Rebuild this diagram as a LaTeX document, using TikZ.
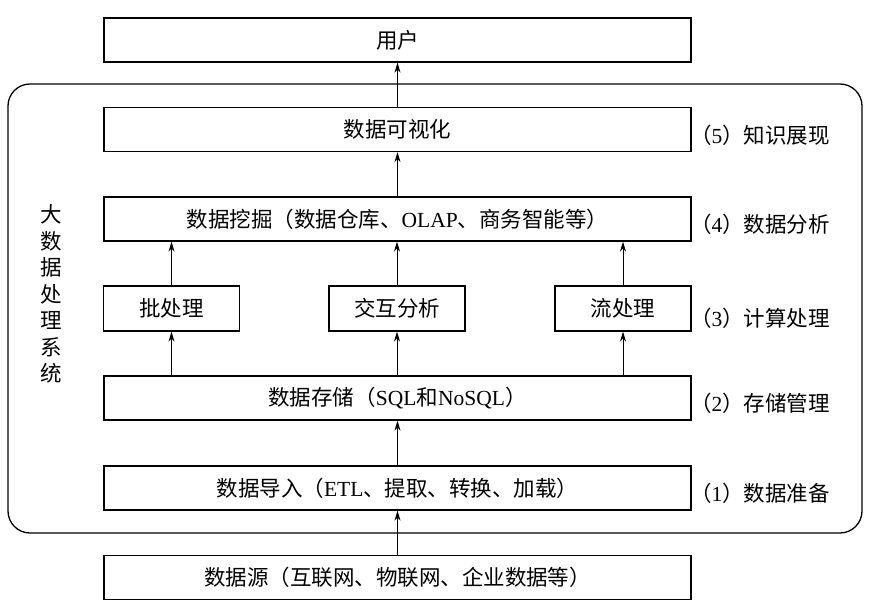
\documentclass[tikz,border=0pt]{standalone}
\usepackage{fontspec}
\newfontfamily\cjk{Noto Sans CJK SC}
\newfontfamily\lat{Liberation Serif}
\usetikzlibrary{arrows.meta}
\newcommand{\latw}[1]{{\lat #1}}
\begin{document}
\begin{tikzpicture}[x=1pt,y=-1pt,
  every node/.style={font=\cjk\fontsize{21.5}{26}\selectfont},
  boxstyle/.style={draw, line width=1.3pt, inner sep=0pt},
  widebox/.style={boxstyle, minimum width=587pt, minimum height=44pt},
  smallbox/.style={boxstyle, minimum width=136pt, minimum height=45pt},
  arr/.style={line width=1pt, -{Stealth[length=10pt,width=6pt]}},
  sidelabel/.style={anchor=west, inner sep=0pt}]
\useasboundingbox (0,0) rectangle (871,606);
\draw[line width=1.3pt, rounded corners=22pt] (8,84) rectangle (862,533);
\node[widebox] (user) at (397.5,40) {用户};
\node[widebox] (vis) at (397.5,129.5) {数据可视化};
\node[widebox] (mine) at (397.5,219) {数据挖掘（数据仓库、\latw{OLAP}、商务智能等）};
\node[smallbox] (batch) at (171.5,308.5) {批处理};
\node[smallbox] (inter) at (397,308.5) {交互分析};
\node[smallbox] (stream) at (623,308.5) {流处理};
\node[widebox] (store) at (397.5,398) {数据存储（\latw{SQL}和\latw{NoSQL}）};
\node[widebox] (import) at (397.5,488) {数据导入（\latw{ETL}、提取、转换、加载）};
\node[widebox] (source) at (397.5,577.5) {数据源（互联网、物联网、企业数据等）};
\node[sidelabel] (l5) at (690,135) {（\latw{5}）知识展现};
\node[sidelabel] (l4) at (690,224) {（\latw{4}）数据分析};
\node[sidelabel] (l3) at (690,318) {（\latw{3}）计算处理};
\node[sidelabel] (l2) at (690,403) {（\latw{2}）存储管理};
\node[sidelabel] (l1) at (690,493) {（\latw{1}）数据准备};
\node[align=center, inner sep=0pt, font=\cjk\fontsize{21.5}{26.5}\selectfont] (sys) at (51,294) {大\\数\\据\\处\\理\\系\\统};
\draw[arr] (vis.north) -- (user.south);
\draw[arr] (mine.north) -- (vis.south);
\draw[arr] (batch.north) -- (batch.north |- mine.south);
\draw[arr] (inter.north) -- (inter.north |- mine.south);
\draw[arr] (stream.north) -- (stream.north |- mine.south);
\draw[arr] (batch.south |- store.north) -- (batch.south);
\draw[arr] (inter.south |- store.north) -- (inter.south);
\draw[arr] (stream.south |- store.north) -- (stream.south);
\draw[arr] (import.north) -- (store.south);
\draw[arr] (source.north) -- (import.south);
\end{tikzpicture}
\end{document}
